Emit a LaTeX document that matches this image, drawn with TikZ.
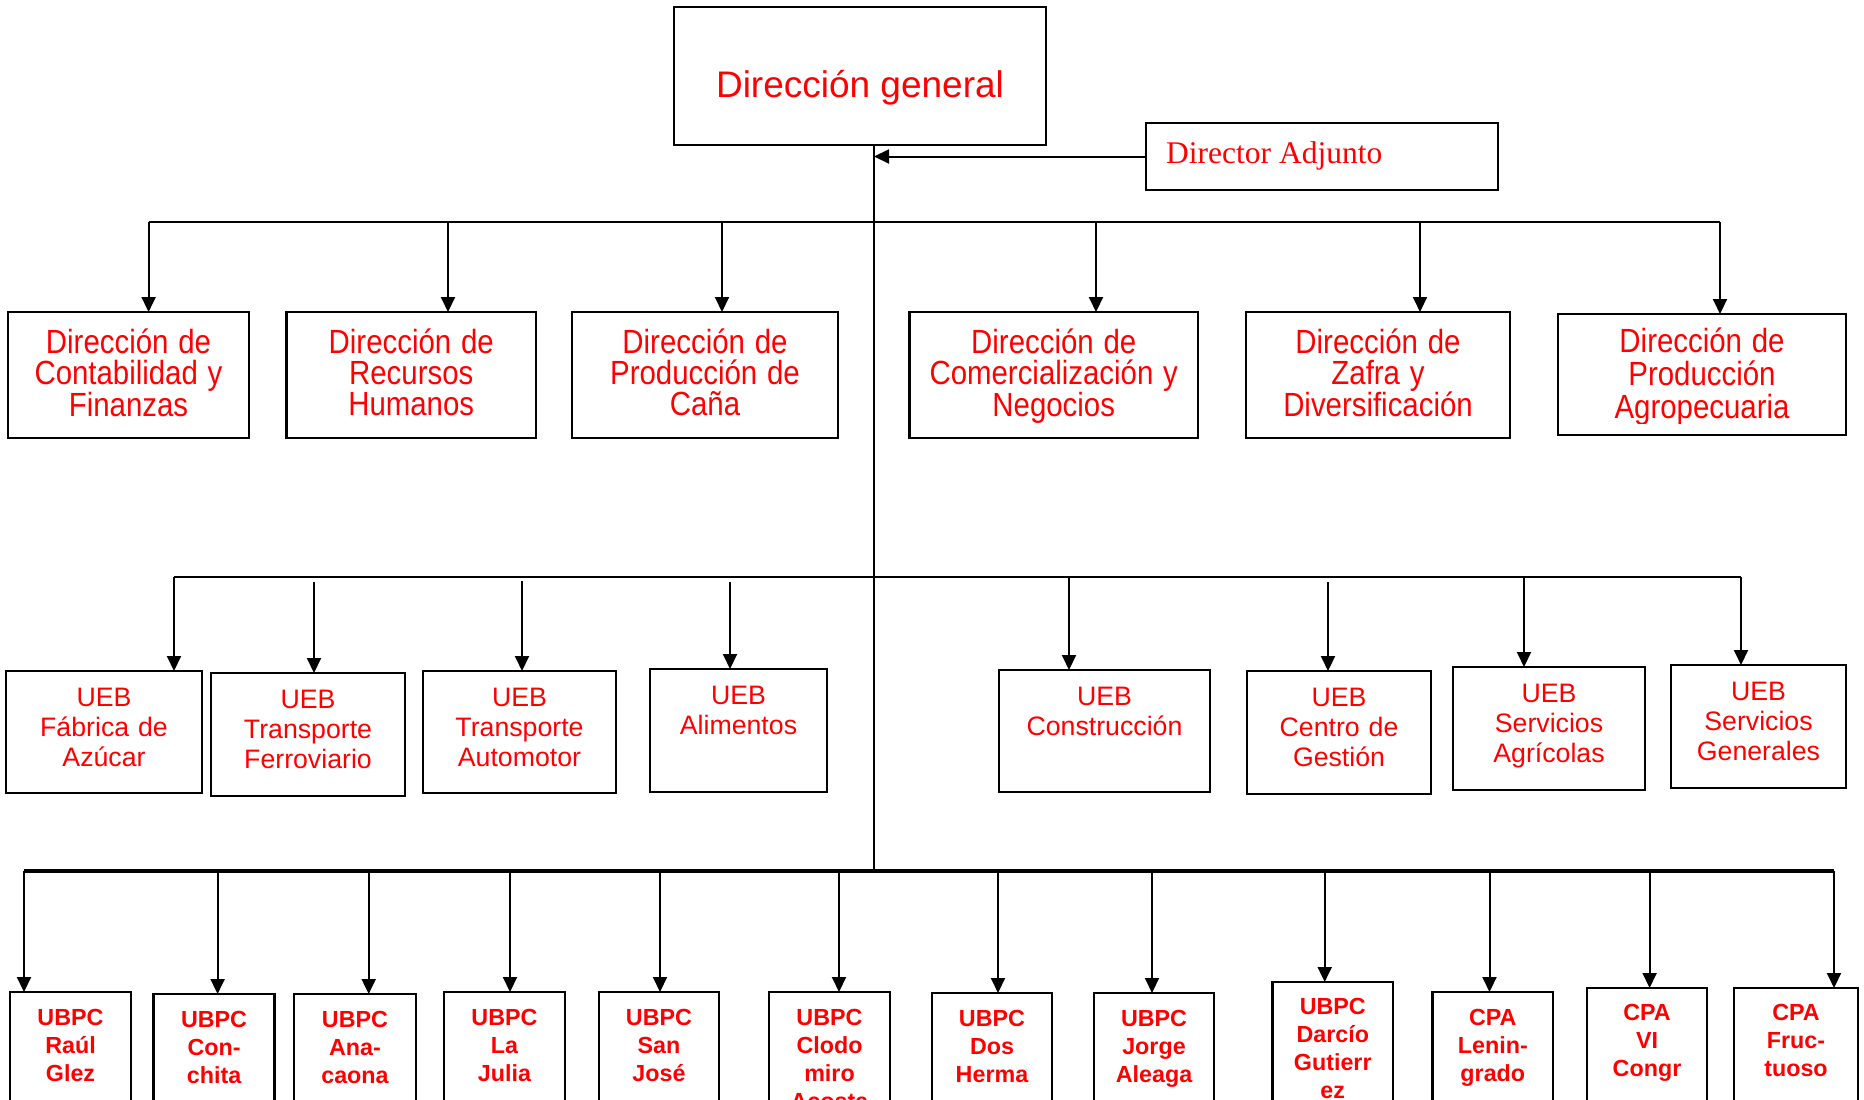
\documentclass[tikz,border=0pt]{standalone}
\usepackage{fontspec}
\setmainfont{Liberation Sans}
\newfontfamily\adjfont{Liberation Serif}
\usetikzlibrary{arrows.meta,fit}
\definecolor{orgred}{HTML}{FF0000}

\begin{document}
\begin{tikzpicture}[
  x=1pt,
  y=-1pt,
  orgbox/.style={draw, line width=2.4pt, inner sep=0pt, outer sep=0pt},
  link/.style={line width=2pt},
  bus/.style={line width=2pt},
  heavybus/.style={line width=3.2pt},
  arr/.style={line width=2pt, -{Triangle[length=15pt, width=14pt]}},
  dtext/.style={orgred, anchor=base, align=center, inner sep=0pt, yscale=1.14,
                text width=300pt, font=\fontsize{29.4}{27.2}\selectfont},
  utext/.style={orgred, anchor=base, align=center, inner sep=0pt,
                text width=240pt, font=\fontsize{26.7}{30}\selectfont},
  btext/.style={orgred, anchor=base, align=center, inner sep=0pt,
                text width=140pt, font=\fontsize{23.3}{28.3}\bfseries\selectfont}
]
  \useasboundingbox (0,0) rectangle (1864,1100);
  \clip (0,0) rectangle (1864,1100);

  % ---- head of the chart ------------------------------------------------
  \node[orgbox, fit={(674,7) (1046,145)}] (dg) {};
  \node[orgred, anchor=base, inner sep=0pt, font=\fontsize{37}{40}\selectfont]
    (dgt) at ([yshift=-90pt]dg.north) {Dirección general};

  \node[orgbox, fit={(1146,123) (1498,190)}] (da) {};
  \node[orgred, anchor=base west, inner sep=0pt,
        font=\adjfont\fontsize{31.5}{34}\selectfont]
    (dat) at (1166,163) {Director Adjunto};

  % ---- direcciones --------------------------------------------------------
  \node[orgbox, fit={(8,312) (249,438)}] (d1) {};
  \node[dtext] (d1t) at ([yshift=-41pt]d1.north) {Dirección de\\Contabilidad y\\Finanzas};
  \node[orgbox, fit={(286.5,312) (536,438)}] (d2) {};
  \node[dtext] (d2t) at ([yshift=-41pt]d2.north) {Dirección de\\Recursos\\Humanos};
  \node[orgbox, fit={(572,312) (838,438)}] (d3) {};
  \node[dtext] (d3t) at ([yshift=-41pt]d3.north) {Dirección de\\Producción de\\Caña};
  \node[orgbox, fit={(909.5,312) (1198,438)}] (d4) {};
  \node[dtext] (d4t) at ([yshift=-41pt]d4.north) {Dirección de\\Comercialización y\\Negocios};
  \node[orgbox, fit={(1246,312) (1510,438)}] (d5) {};
  \node[dtext] (d5t) at ([yshift=-41pt]d5.north) {Dirección de\\Zafra y\\Diversificación};
  \node[orgbox, fit={(1558,314) (1846,435)}] (d6) {};
  % the last line is cut by the frame of its text box
  \begin{scope}
    \clip (1558,314) rectangle (1846,423);
    \node[dtext, font=\fontsize{29.4}{28.9}\selectfont] (d6t) at ([yshift=-38.7pt]d6.north)
      {Dirección de\\Producción\\Agropecuaria};
  \end{scope}

  % ---- UEB ----------------------------------------------------------------
  \node[orgbox, fit={(6,671) (202,793)}] (u1) {};
  \node[utext] (u1t) at ([yshift=-35.5pt]u1.north) {UEB\\Fábrica de\\Azúcar};
  \node[orgbox, fit={(211,673) (405,796)}] (u2) {};
  \node[utext] (u2t) at ([yshift=-35.5pt]u2.north) {UEB\\Transporte\\Ferroviario};
  \node[orgbox, fit={(423,671) (616,793)}] (u3) {};
  \node[utext] (u3t) at ([yshift=-35.5pt]u3.north) {UEB\\Transporte\\Automotor};
  \node[orgbox, fit={(650,669) (827,792)}] (u4) {};
  \node[utext] (u4t) at ([yshift=-35.5pt]u4.north) {UEB\\Alimentos};
  \node[orgbox, fit={(999,670) (1210,792)}] (u5) {};
  \node[utext] (u5t) at ([yshift=-35.5pt]u5.north) {UEB\\Construcción};
  \node[orgbox, fit={(1247,671) (1431,794)}] (u6) {};
  \node[utext] (u6t) at ([yshift=-35.5pt]u6.north) {UEB\\Centro de\\Gestión};
  \node[orgbox, fit={(1453,667) (1645,790)}] (u7) {};
  \node[utext] (u7t) at ([yshift=-35.5pt]u7.north) {UEB\\Servicios\\Agrícolas};
  \node[orgbox, fit={(1671,665) (1846,788)}] (u8) {};
  \node[utext] (u8t) at ([yshift=-35.5pt]u8.north) {UEB\\Servicios\\Generales};

  % ---- UBPC and CPA (the page ends across them) ---------------------------
  \node[orgbox, fit={(10,992) (131,1140)}] (b1) {};
  \node[btext] (b1t) at ([yshift=-33pt]b1.north) {UBPC\\Raúl\\Glez};
  \node[orgbox, fit={(153.5,994) (274.6,1140)}] (b2) {};
  \node[btext] (b2t) at ([yshift=-33pt]b2.north) {UBPC\\Con-\\chita};
  \node[orgbox, fit={(294,994) (416,1140)}] (b3) {};
  \node[btext] (b3t) at ([yshift=-33pt]b3.north) {UBPC\\Ana-\\caona};
  \node[orgbox, fit={(444,992) (565,1140)}] (b4) {};
  \node[btext] (b4t) at ([yshift=-33pt]b4.north) {UBPC\\La\\Julia};
  \node[orgbox, fit={(599,992) (719,1140)}] (b5) {};
  \node[btext] (b5t) at ([yshift=-33pt]b5.north) {UBPC\\San\\José};
  \node[orgbox, fit={(769,992) (890,1140)}] (b6) {};
  \node[btext] (b6t) at ([yshift=-33pt]b6.north) {UBPC\\Clodo\\miro\\Acosta};
  \node[orgbox, fit={(932,993) (1052,1140)}] (b7) {};
  \node[btext] (b7t) at ([yshift=-33pt]b7.north) {UBPC\\Dos\\Herma};
  \node[orgbox, fit={(1094,993) (1214,1140)}] (b8) {};
  \node[btext] (b8t) at ([yshift=-33pt]b8.north) {UBPC\\Jorge\\Aleaga};
  \node[orgbox, fit={(1272.5,982) (1393,1140)}] (b9) {};
  \node[btext] (b9t) at ([yshift=-32pt]b9.north) {UBPC\\Darcío\\Gutierr\\ez};
  \node[orgbox, fit={(1432.6,992) (1553,1140)}] (b10) {};
  \node[btext] (b10t) at ([yshift=-33pt]b10.north) {CPA\\Lenin-\\grado};
  \node[orgbox, fit={(1587,988) (1707,1140)}] (b11) {};
  \node[btext] (b11t) at ([yshift=-32pt]b11.north) {CPA\\VI\\Congr};
  \node[orgbox, fit={(1734,988) (1858,1140)}] (b12) {};
  \node[btext] (b12t) at ([yshift=-32pt]b12.north) {CPA\\Fruc-\\tuoso};

  % ---- trunk and the three rows of connectors -----------------------------
  \coordinate (tk) at (874,871);
  \draw[link] (dg.south -| tk) -- (tk);
  \draw[arr] (da.west) -- (da.west -| tk);

  \foreach \n/\x in {d1/148.6, d2/448, d3/722, d4/1096, d5/1420, d6/1720} {
    \coordinate (r2-\n) at (\x,222);
    \draw[arr] (r2-\n) -- (r2-\n |- \n.north);
  }
  \draw[bus] (r2-d1) -- (r2-d6);

  % some of these start a little below the line, as in the original
  \foreach \n/\x/\y in {u1/174/577, u2/314/582, u3/522/581, u4/730/582,
                        u5/1069/577, u6/1328/582, u7/1524/577, u8/1741/577} {
    \coordinate (r3-\n) at (\x,\y);
    \draw[arr] (r3-\n) -- (r3-\n |- \n.north);
  }
  \draw[bus] (r3-u1) -- (r3-u8);

  \foreach \n/\x in {b1/24, b2/217.6, b3/368.7, b4/510, b5/660, b6/839, b7/998,
                     b8/1152, b9/1324.7, b10/1489.5, b11/1649.6, b12/1834} {
    \coordinate (r4-\n) at (\x,871);
    \draw[arr] (r4-\n) -- (r4-\n |- \n.north);
  }
  \draw[heavybus] (r4-b1) -- (r4-b12);
\end{tikzpicture}
\end{document}
